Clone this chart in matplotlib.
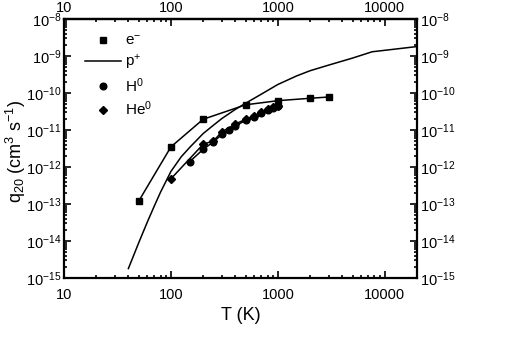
import math
import matplotlib
matplotlib.use("Agg")
import matplotlib.pyplot as plt
from matplotlib.lines import Line2D
from matplotlib.ticker import FixedLocator, LogLocator, NullFormatter, FuncFormatter

plt.rcParams['font.family'] = ['Liberation Sans', 'DejaVu Sans']
plt.rcParams['mathtext.fontset'] = 'custom'
plt.rcParams['mathtext.rm'] = 'Liberation Sans'
plt.rcParams['mathtext.it'] = 'Liberation Sans:italic'

# electrons
T_e = [50, 100, 200, 500, 1000, 2000, 3000]
q_e = [1.2e-13, 3.5e-12, 1.95e-11, 4.8e-11, 6.2e-11, 7.2e-11, 7.8e-11]

# protons (line only)
T_p = [40, 50, 60, 70, 80, 100, 125, 150, 200, 250, 300, 400, 500, 700,
       1000, 1500, 2000, 3000, 5000, 7600, 20000]
q_p = [1.8e-15, 9e-15, 3.2e-14, 8.9e-14, 2.1e-13, 7.6e-13, 1.9e-12, 3.4e-12,
       8.0e-12, 1.35e-11, 2.05e-11, 3.6e-11, 5.3e-11, 9.3e-11,
       1.7e-10, 2.9e-10, 4.0e-10, 5.7e-10, 8.8e-10, 1.3e-9, 1.8e-9]

# H0
T_h = [150, 200, 250, 300, 350, 400, 500, 600, 700, 800, 900, 1000]
q_h = [1.4e-12, 3.0e-12, 4.8e-12, 7.6e-12, 1.0e-11, 1.29e-11, 1.82e-11,
       2.29e-11, 2.88e-11, 3.47e-11, 3.89e-11, 4.37e-11]

# He0
T_he = [100, 200, 250, 300, 400, 500, 600, 700, 800, 900, 1000]
q_he = [4.8e-13, 4.1e-12, 5.1e-12, 8.9e-12, 1.45e-11, 1.95e-11, 2.45e-11,
        3.0e-11, 3.6e-11, 4.1e-11, 4.5e-11]

x_ticks = [10, 100, 1000, 10000]

fig = plt.figure(figsize=(5.18, 3.61), dpi=100)
ax = fig.add_axes([64/518, 1-278/361, (417-64)/518, (278-19)/361])

ax.plot(T_e, q_e, color='black', lw=1.1, marker='s', ms=4.8)
ax.plot(T_p, q_p, color='black', lw=1.1)
ax.plot(T_h, q_h, color='black', lw=1.1, marker='o', ms=4.8)
ax.plot(T_he, q_he, color='black', lw=1.1, marker='D', ms=4.2)

ax.set_xscale('log')
ax.set_yscale('log')
ax.set_xlim(10, 20000)
ax.set_ylim(1e-15, 1e-8)

xfmt = FuncFormatter(lambda v, p: '%d' % round(v))
ax.xaxis.set_major_locator(FixedLocator(x_ticks))
ax.xaxis.set_major_formatter(xfmt)
ax.xaxis.set_minor_locator(LogLocator(base=10, subs=range(2, 10), numticks=20))
ax.xaxis.set_minor_formatter(NullFormatter())

ax.yaxis.set_major_locator(LogLocator(base=10, numticks=20))
ax.yaxis.set_major_formatter(FuncFormatter(
    lambda v, p: r'$\mathregular{10^{%d}}$' % round(math.log10(v))))
ax.yaxis.set_minor_locator(LogLocator(base=10, subs=range(2, 10), numticks=20))
ax.yaxis.set_minor_formatter(NullFormatter())

ax.tick_params(which='both', direction='in', top=False, right=True,
               labelright=True, labelsize=10.5, width=1.2)
ax.tick_params(axis='x', which='both', pad=7)
ax.tick_params(axis='y', which='both', pad=2)
ax.tick_params(which='major', length=5)
ax.tick_params(which='minor', length=2.5)
for s in ax.spines.values():
    s.set_linewidth(1.6)

# top axis: same scale, labels closer to the frame
top = ax.secondary_xaxis('top')
top.xaxis.set_major_locator(FixedLocator(x_ticks))
top.xaxis.set_major_formatter(xfmt)
top.xaxis.set_minor_locator(LogLocator(base=10, subs=range(2, 10), numticks=20))
top.xaxis.set_minor_formatter(NullFormatter())
top.tick_params(which='both', direction='in', labelsize=10.5, width=1.2, pad=3)
top.tick_params(which='major', length=5)
top.tick_params(which='minor', length=2.5)
top.spines['top'].set_linewidth(1.6)

ax.set_xlabel('T (K)', fontsize=13, labelpad=4)
fig.text(0.031, 0.58, r'q$_{20}$ (cm$^{3}$ s$^{-1}$)', rotation=90, fontsize=13,
         ha='center', va='center')

handles = [
    Line2D([], [], color='black', marker='s', ms=4.8, ls='none'),
    Line2D([], [], color='black', lw=1.1),
    Line2D([], [], color='black', marker='o', ms=4.8, ls='none'),
    Line2D([], [], color='black', marker='D', ms=4.2, ls='none'),
]
labels = [r'e$^{-}$', r'p$^{+}$', r'H$^{0}$', r'He$^{0}$']
ax.legend(handles, labels, loc='upper left', frameon=False, fontsize=11,
          handlelength=2.4, handletextpad=0.2, labelspacing=0.3,
          bbox_to_anchor=(0.02, 0.995))

fig.savefig('out.png', dpi=100)
